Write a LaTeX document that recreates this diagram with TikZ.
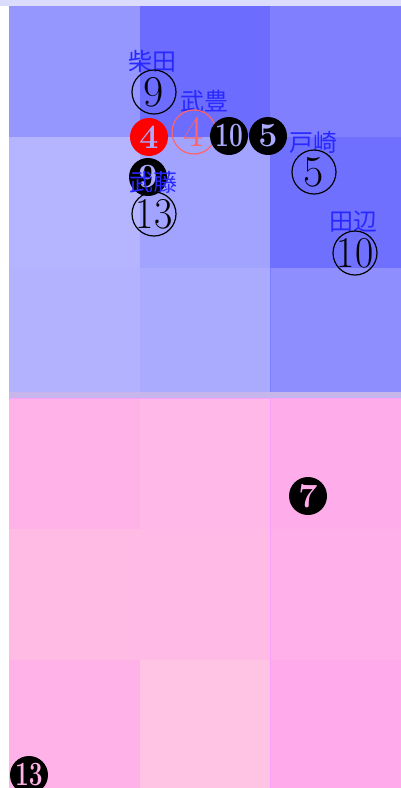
\documentclass[tikz,border=0pt]{standalone}
\usepackage{fontspec}
\newfontfamily\cjk{Noto Sans CJK JP}
\definecolor{topband}{RGB}{220,220,252}
\definecolor{ba}{RGB}{150,150,255}
\definecolor{bb}{RGB}{108,108,255}
\definecolor{bc}{RGB}{128,128,255}
\definecolor{bd}{RGB}{180,180,255}
\definecolor{be}{RGB}{162,162,255}
\definecolor{bf}{RGB}{112,112,255}
\definecolor{bg}{RGB}{178,178,255}
\definecolor{bh}{RGB}{170,170,255}
\definecolor{bi}{RGB}{142,142,255}
\definecolor{mixstrip}{RGB}{198,182,236}
\definecolor{pa}{RGB}{255,178,232}
\definecolor{pb}{RGB}{255,184,232}
\definecolor{pc}{RGB}{255,172,235}
\definecolor{pd}{RGB}{255,187,228}
\definecolor{pe}{RGB}{255,186,230}
\definecolor{pf}{RGB}{255,176,235}
\definecolor{pg}{RGB}{255,178,232}
\definecolor{ph}{RGB}{255,195,228}
\definecolor{pi}{RGB}{255,170,235}
\definecolor{pinkline}{RGB}{248,160,250}
\definecolor{blueline}{RGB}{125,125,255}
\definecolor{labelblue}{RGB}{40,40,255}
\definecolor{salmon}{RGB}{255,100,100}
\tikzset{
  namelabel/.style={text=labelblue, font=\cjk\fontsize{24}{24}\selectfont, inner sep=0pt},
  opencirc/.style={circle, draw=black, line width=1.2pt, minimum size=44pt, inner sep=-20pt, font=\fontsize{44}{44}\selectfont},
  filledcirc/.style={circle, fill=black, minimum size=38pt, inner sep=-20pt, font=\bfseries\fontsize{34}{34}\selectfont},
}
\begin{document}
\begin{tikzpicture}[x=1pt,y=-1pt]
\useasboundingbox (0,0) rectangle (401,788);
\fill[white] (0,0) rectangle (401,788);
\fill[topband] (0,0) rectangle (401,6);
% blue grid
\fill[ba] (9,6) rectangle (140,137);
\fill[bb] (140,6) rectangle (270,137);
\fill[bc] (270,6) rectangle (401,137);
\fill[bd] (9,137) rectangle (140,268);
\fill[be] (140,137) rectangle (270,268);
\fill[bf] (270,137) rectangle (401,268);
\fill[bg] (9,268) rectangle (140,398);
\fill[bh] (140,268) rectangle (270,398);
\fill[bi] (270,268) rectangle (401,398);
\fill[blueline] (269.5,268) rectangle (270.5,392);
\fill[mixstrip] (9,392) rectangle (401,398);
% pink grid
\fill[pa] (9,398) rectangle (140,529);
\fill[pb] (140,398) rectangle (270,529);
\fill[pc] (270,398) rectangle (401,529);
\fill[pd] (9,529) rectangle (140,660);
\fill[pe] (140,529) rectangle (270,660);
\fill[pf] (270,529) rectangle (401,660);
\fill[pg] (9,660) rectangle (140,788);
\fill[ph] (140,660) rectangle (270,788);
\fill[pi] (270,660) rectangle (401,788);
\fill[pinkline] (269.5,398) rectangle (270.5,788);
\fill[pinkline] (9,397.5) rectangle (401,398.5);
% markers
\node[namelabel] (shibata) at (152,61) {柴田};
\node[opencirc] (c9) at (154,92) {9};
\node[namelabel] (take) at (204,101) {武豊};
\node[filledcirc, fill=red, text=bh] (f4) at (149,137) {4};
\node[opencirc, draw=salmon, text=salmon] (c4) at (194,132) {4};
\node[filledcirc, text=bh] (f10) at (229,136) {\scalebox{0.72}[1]{10}};
\node[filledcirc, text=bh] (f5) at (268,136) {5};
\node[namelabel] (tosaki) at (313,142) {戸崎};
\node[opencirc] (c5) at (314,172) {5};
\node[filledcirc, text=bh] (f9) at (148,177) {9};
\node[namelabel] (muto) at (153,182) {武藤};
\node[opencirc] (c13) at (154,214) {\scalebox{0.9}[1]{13}};
\node[namelabel] (tanabe) at (353,222) {田辺};
\node[opencirc] (c10) at (355,253) {\scalebox{0.9}[1]{10}};
\node[filledcirc, text=pc] (f7) at (308,496) {7};
\node[filledcirc, text=pg] (f13) at (29,775) {\scalebox{0.72}[1]{13}};
\end{tikzpicture}
\end{document}
